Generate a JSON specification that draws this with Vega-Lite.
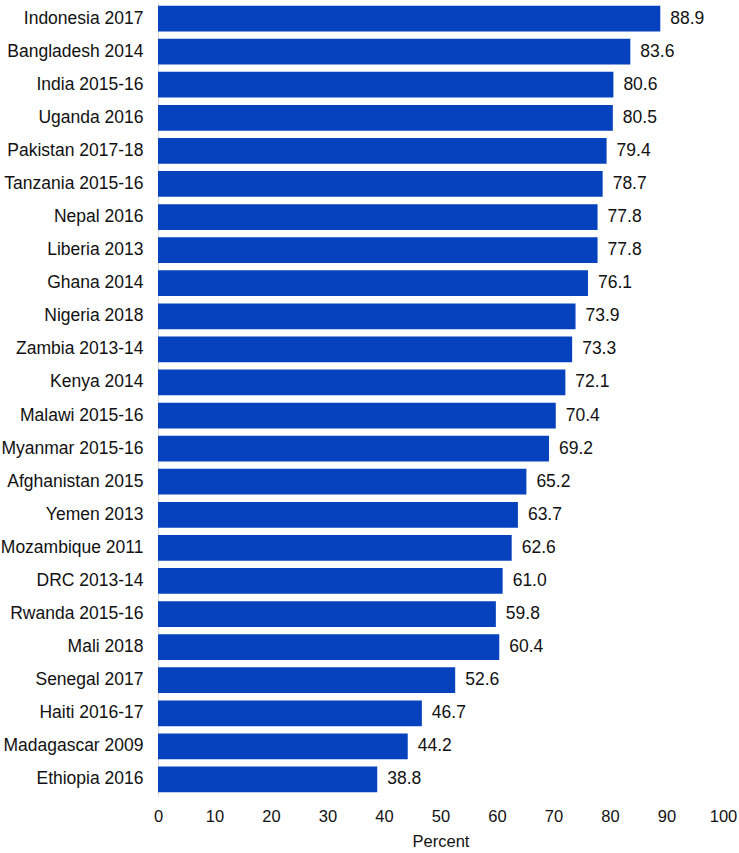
{
  "$schema": "https://vega.github.io/schema/vega-lite/v6.json",
  "autosize": {"type": "none"},
  "padding": {"left": 158, "top": 2, "right": 16, "bottom": 57},
  "width": 565,
  "height": 794,
  "background": "white",
  "config": {"view": {"stroke": null}, "font": "Liberation Sans"},
  "data": {"values": [
    {"country": "Indonesia 2017", "value": 88.9},
    {"country": "Bangladesh 2014", "value": 83.6},
    {"country": "India 2015-16", "value": 80.6},
    {"country": "Uganda 2016", "value": 80.5},
    {"country": "Pakistan 2017-18", "value": 79.4},
    {"country": "Tanzania 2015-16", "value": 78.7},
    {"country": "Nepal 2016", "value": 77.8},
    {"country": "Liberia 2013", "value": 77.8},
    {"country": "Ghana 2014", "value": 76.1},
    {"country": "Nigeria 2018", "value": 73.9},
    {"country": "Zambia 2013-14", "value": 73.3},
    {"country": "Kenya 2014", "value": 72.1},
    {"country": "Malawi 2015-16", "value": 70.4},
    {"country": "Myanmar 2015-16", "value": 69.2},
    {"country": "Afghanistan 2015", "value": 65.2},
    {"country": "Yemen 2013", "value": 63.7},
    {"country": "Mozambique 2011", "value": 62.6},
    {"country": "DRC 2013-14", "value": 61.0},
    {"country": "Rwanda 2015-16", "value": 59.8},
    {"country": "Mali 2018", "value": 60.4},
    {"country": "Senegal 2017", "value": 52.6},
    {"country": "Haiti 2016-17", "value": 46.7},
    {"country": "Madagascar 2009", "value": 44.2},
    {"country": "Ethiopia 2016", "value": 38.8}
  ]},
  "encoding": {
    "y": {
      "field": "country", "type": "nominal", "sort": null,
      "scale": {"paddingInner": 0.22, "paddingOuter": 0.11},
      "axis": {"title": null, "ticks": false, "domain": true, "domainColor": "#dddddd", "domainWidth": 1,
               "labelFontSize": 17.5, "labelColor": "#111111", "labelPadding": 15, "labelLimit": 200}
    },
    "x": {
      "field": "value", "type": "quantitative",
      "scale": {"domain": [0, 100], "nice": false},
      "axis": {"title": "Percent", "values": [0,10,20,30,40,50,60,70,80,90,100], "grid": false, "ticks": false, "domain": false,
               "labelFontSize": 16.5, "labelColor": "#111111", "labelPadding": 12, "labelFlush": false,
               "titleFontSize": 16.5, "titleFontWeight": "normal", "titleColor": "#111111", "titlePadding": 9}
    }
  },
  "layer": [
    {"mark": {"type": "bar", "color": "#0742BE"}},
    {"mark": {"type": "text", "align": "left", "dx": 10, "fontSize": 17.5, "color": "#111111"},
     "encoding": {"text": {"field": "value", "type": "quantitative", "format": ".1f"}}}
  ]
}
